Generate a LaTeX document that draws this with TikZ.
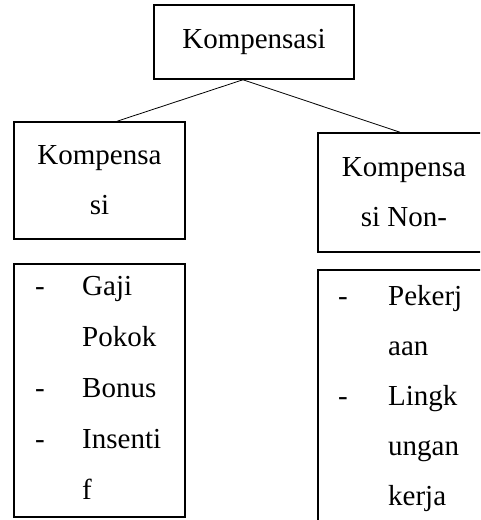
\documentclass[tikz,border=0pt]{standalone}
\usepackage{fontspec}
\setmainfont{Liberation Serif}
\usetikzlibrary{calc}

\tikzset{
  kotak/.style={draw, line width=1.5pt, rectangle, inner sep=0pt, align=center, font=\fontsize{29}{50}\selectfont},
  isi/.style={anchor=mid west, inner sep=0pt, font=\fontsize{29}{35}\selectfont},
}

\begin{document}
\begin{tikzpicture}[x=1pt,y=-1pt]
    \useasboundingbox (0,0) rectangle (480,520);
    \clip (0,0) rectangle (480,520);
    \node[kotak, minimum width=200pt, minimum height=74pt] (komp) at (254,42) {Kompensasi};
    \node[kotak, minimum width=171pt, minimum height=117pt] (fin) at (99.5,180.5) {Kompensa\\si};
    \node[kotak, minimum width=172pt, minimum height=119pt] (nonfin) at (404,192.5) {Kompensa\\si Non-};
    \node[kotak, minimum width=171pt, minimum height=253pt] (daftarfin) at (99.5,390.5) {};
    \node[kotak, minimum width=172pt, minimum height=300pt] (daftarnon) at (404,420) {};
    \draw[line width=0.8pt] ($(komp.south)+(-11,0)$) -- ($(fin.north)+(17.5,0)$);
    \draw[line width=0.8pt] ($(komp.south)+(-11,0)$) -- ($(nonfin.north)+(-4,0)$);
    \foreach \d/\w [count=\i] in {-/Gaji,{}/Pokok,-/Bonus,-/Insenti,{}/f}{
      \node[isi, anchor=mid] (fd\i) at (40,{293+51*(\i-1)}) {\d};
      \node[isi] (fw\i) at (82,{293+51*(\i-1)}) {\w};
    }
    \foreach \d/\w [count=\i] in {-/Pekerj,{}/aan,-/Lingk,{}/ungan,{}/kerja}{
      \node[isi, anchor=mid] (nd\i) at (343,{303+50*(\i-1)}) {\d};
      \node[isi] (nw\i) at (388,{303+50*(\i-1)}) {\w};
    }
\end{tikzpicture}
\end{document}
